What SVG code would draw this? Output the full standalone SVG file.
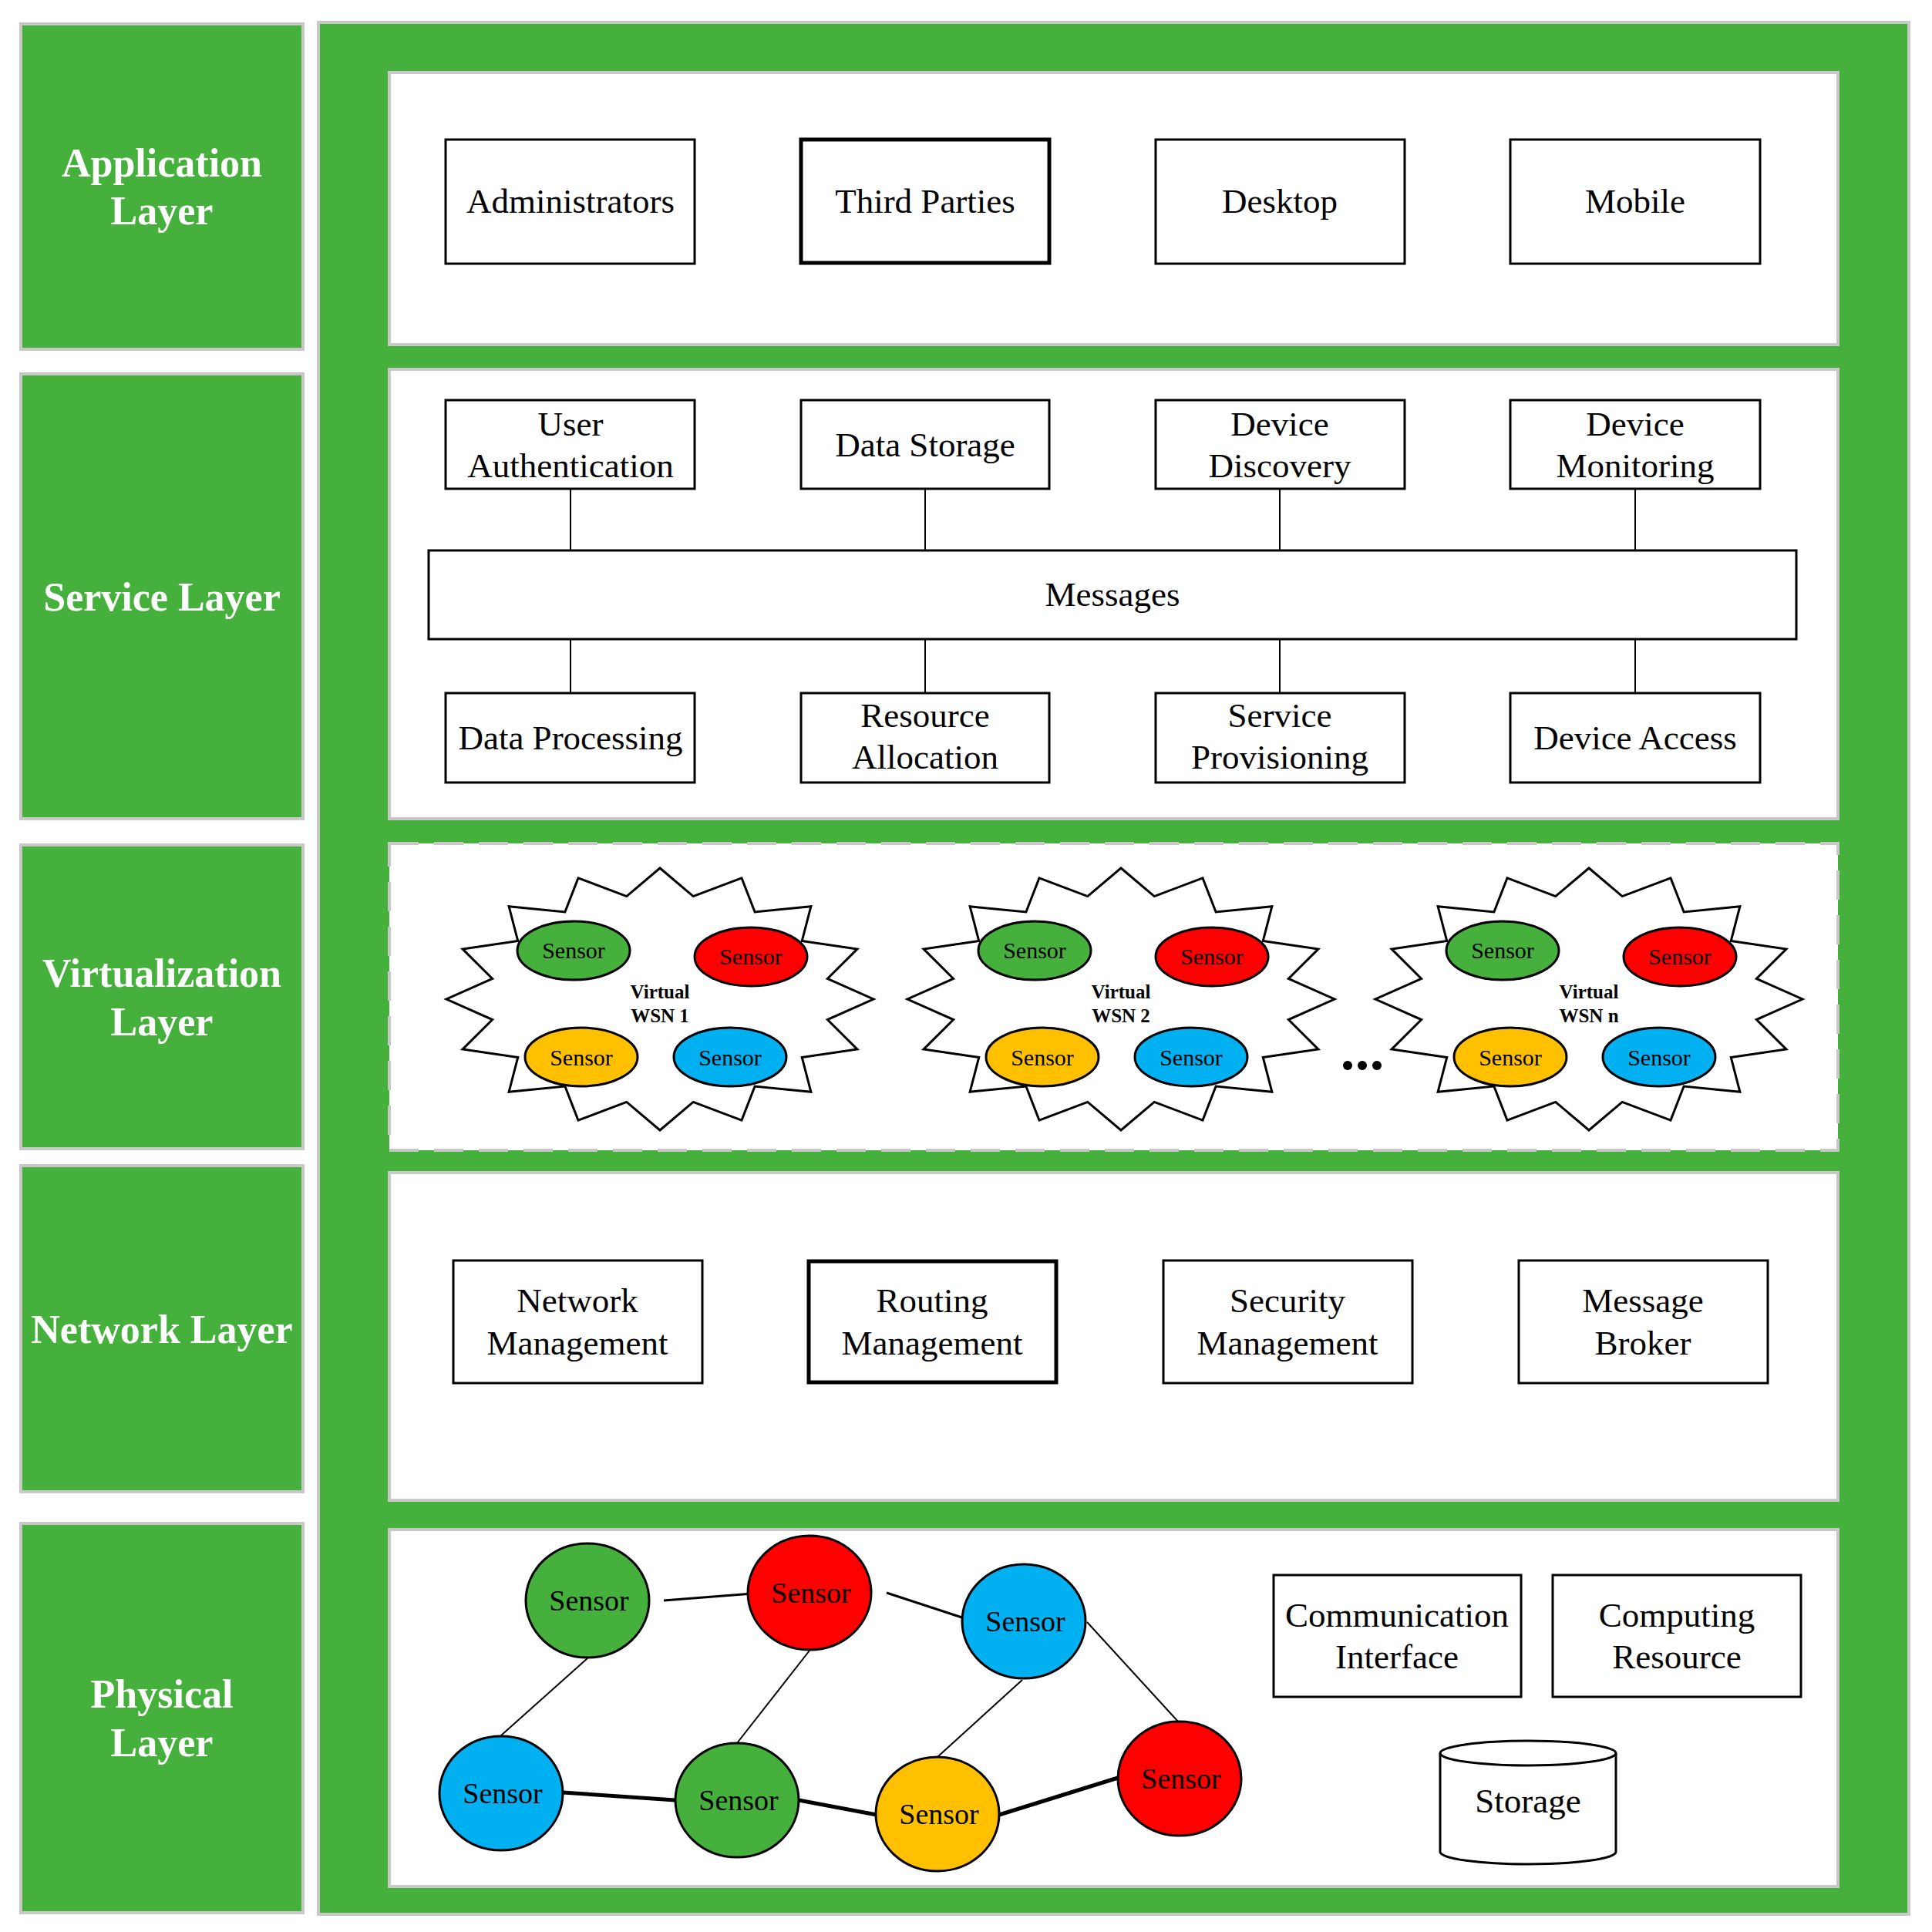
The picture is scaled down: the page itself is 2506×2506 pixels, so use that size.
<svg xmlns="http://www.w3.org/2000/svg" xmlns:xlink="http://www.w3.org/1999/xlink" width="2506" height="2506" viewBox="0 0 2506 2506">
<style>
.lbl{fill:#46b03d;stroke:#c8c8c8;stroke-width:4}
.lt{font-family:"Liberation Serif","Times New Roman",serif;font-weight:bold;font-size:52px;fill:#fff;text-anchor:middle}
.panel{fill:#fff;stroke:#c8c8c8;stroke-width:4}
.dash{fill:#fff;stroke:#c8c8c8;stroke-width:4;stroke-dasharray:38 20}
.box{fill:#fff;stroke:#000;stroke-width:3}
.boxb{fill:#fff;stroke:#000;stroke-width:5}
.t{font-family:"Liberation Serif","Times New Roman",serif;font-size:45px;fill:#000;text-anchor:middle}
.st{font-family:"Liberation Serif","Times New Roman",serif;font-size:30px;fill:#000;text-anchor:middle}
.vt{font-family:"Liberation Serif","Times New Roman",serif;font-size:25px;font-weight:bold;fill:#000;text-anchor:middle}
.pt{font-family:"Liberation Serif","Times New Roman",serif;font-size:38px;fill:#000;text-anchor:middle}
.star{fill:#fff;stroke:#000;stroke-width:3;stroke-linejoin:miter}
.sen{stroke:#000;stroke-width:3}
.g{fill:#46b03d}.r{fill:#ff0000}.b{fill:#00b0f0}.y{fill:#ffc000}
.c1{stroke:#000;stroke-width:2;fill:none}
.c3{stroke:#000;stroke-width:3;fill:none}
.c5{stroke:#000;stroke-width:5;fill:none}
</style>
<defs>
<path id="starShape" class="star" d="M0,-170 L43.23,-133.39 L106,-157.06 L123.11,-113.08 L195.87,-120.21 L184.25,-75.56 L255.91,-65.06 L217.34,-26.53 L277,0 L217.34,26.53 L255.91,65.06 L184.25,75.56 L195.87,120.21 L123.11,113.08 L106,157.06 L43.23,133.39 L0,170 L-43.23,133.39 L-106,157.06 L-123.11,113.08 L-195.87,120.21 L-184.25,75.56 L-255.91,65.06 L-217.34,26.53 L-277,0 L-217.34,-26.53 L-255.91,-65.06 L-184.25,-75.56 L-195.87,-120.21 L-123.11,-113.08 L-106,-157.06 L-43.23,-133.39 Z"/>
</defs>
<rect width="2506" height="2506" fill="#fff"/>

<!-- layer labels -->
<g id="label-application"><rect class="lbl" x="27" y="31" width="366" height="422"/><text class="lt" x="210" y="229">Application</text><text class="lt" x="210" y="291">Layer</text></g>
<g id="label-service"><rect class="lbl" x="27" y="485" width="366" height="577"/><text class="lt" x="210" y="792">Service Layer</text></g>
<g id="label-virtualization"><rect class="lbl" x="27" y="1096" width="366" height="394"/><text class="lt" x="210" y="1280">Virtualization</text><text class="lt" x="210" y="1343">Layer</text></g>
<g id="label-network"><rect class="lbl" x="27" y="1512" width="366" height="423"/><text class="lt" x="210" y="1742">Network Layer</text></g>
<g id="label-physical"><rect class="lbl" x="27" y="1976" width="366" height="505"/><text class="lt" x="210" y="2215">Physical</text><text class="lt" x="210" y="2278">Layer</text></g>

<!-- main area -->
<rect id="main-area" class="lbl" x="413" y="29" width="2063" height="2454"/>
<rect id="panel-application" class="panel" x="505" y="94" width="1879" height="353"/>
<rect id="panel-service" class="panel" x="505" y="479" width="1879" height="583"/>
<rect id="panel-virtualization" class="dash" x="505" y="1094" width="1879" height="398"/>
<rect id="panel-network" class="panel" x="505" y="1521" width="1879" height="425"/>
<rect id="panel-physical" class="panel" x="505" y="1984" width="1879" height="463"/>

<!-- connectors -->
<g id="connectors">
<line class="c1" x1="740" y1="634" x2="740" y2="714"/>
<line class="c1" x1="1200" y1="634" x2="1200" y2="714"/>
<line class="c1" x1="1660" y1="634" x2="1660" y2="714"/>
<line class="c1" x1="2121" y1="634" x2="2121" y2="714"/>
<line class="c1" x1="740" y1="829" x2="740" y2="899"/>
<line class="c1" x1="1200" y1="829" x2="1200" y2="899"/>
<line class="c1" x1="1660" y1="829" x2="1660" y2="899"/>
<line class="c1" x1="2121" y1="829" x2="2121" y2="899"/>
<line class="c3" x1="861" y1="2076" x2="989" y2="2066"/>
<line class="c3" x1="1150" y1="2066" x2="1266" y2="2104"/>
<line class="c1" x1="762" y1="2151" x2="650" y2="2251"/>
<line class="c1" x1="1050" y1="2141" x2="956" y2="2261"/>
<line class="c1" x1="1326" y1="2179" x2="1216" y2="2279"/>
<line class="c1" x1="1410" y1="2104" x2="1528" y2="2233"/>
<line class="c5" x1="730" y1="2325" x2="876" y2="2335"/>
<line class="c5" x1="1036" y1="2335" x2="1137" y2="2354"/>
<line class="c5" x1="1296" y1="2354" x2="1450" y2="2306"/>
</g>

<!-- application layer -->
<g id="n-administrators"><rect class="box" x="578" y="181" width="323" height="161"/><text class="t" x="740" y="276">Administrators</text></g>
<g id="n-third-parties"><rect class="boxb" x="1039" y="181" width="322" height="160"/><text class="t" x="1200" y="276">Third Parties</text></g>
<g id="n-desktop"><rect class="box" x="1499" y="181" width="323" height="161"/><text class="t" x="1660" y="276">Desktop</text></g>
<g id="n-mobile"><rect class="box" x="1959" y="181" width="324" height="161"/><text class="t" x="2121" y="276">Mobile</text></g>

<!-- service layer -->
<g id="n-user-auth"><rect class="box" x="578" y="519" width="323" height="115"/><text class="t" x="740" y="565">User</text><text class="t" x="740" y="619">Authentication</text></g>
<g id="n-data-storage"><rect class="box" x="1039" y="519" width="322" height="115"/><text class="t" x="1200" y="592">Data Storage</text></g>
<g id="n-device-discovery"><rect class="box" x="1499" y="519" width="323" height="115"/><text class="t" x="1660" y="565">Device</text><text class="t" x="1660" y="619">Discovery</text></g>
<g id="n-device-monitoring"><rect class="box" x="1959" y="519" width="324" height="115"/><text class="t" x="2121" y="565">Device</text><text class="t" x="2121" y="619">Monitoring</text></g>
<g id="n-messages"><rect class="box" x="556" y="714" width="1774" height="115"/><text class="t" x="1443" y="786">Messages</text></g>
<g id="n-data-processing"><rect class="box" x="578" y="899" width="323" height="116"/><text class="t" x="740" y="972">Data Processing</text></g>
<g id="n-resource-allocation"><rect class="box" x="1039" y="899" width="322" height="116"/><text class="t" x="1200" y="943">Resource</text><text class="t" x="1200" y="997">Allocation</text></g>
<g id="n-service-provisioning"><rect class="box" x="1499" y="899" width="323" height="116"/><text class="t" x="1660" y="943">Service</text><text class="t" x="1660" y="997">Provisioning</text></g>
<g id="n-device-access"><rect class="box" x="1959" y="899" width="324" height="116"/><text class="t" x="2121" y="972">Device Access</text></g>

<!-- virtualization layer -->
<g id="n-vwsn1" transform="translate(856,1296)">
<use xlink:href="#starShape" href="#starShape"/>
<ellipse class="sen g" cx="-112" cy="-63" rx="73" ry="38"/><text class="st" x="-112" y="-53">Sensor</text>
<ellipse class="sen r" cx="118" cy="-55" rx="73" ry="38"/><text class="st" x="118" y="-45">Sensor</text>
<ellipse class="sen y" cx="-102" cy="75" rx="73" ry="38"/><text class="st" x="-102" y="86">Sensor</text>
<ellipse class="sen b" cx="91" cy="75" rx="73" ry="38"/><text class="st" x="91" y="86">Sensor</text>
<text class="vt" x="0" y="-1">Virtual</text><text class="vt" x="0" y="30">WSN 1</text>
</g>
<g id="n-vwsn2" transform="translate(1454,1296)">
<use xlink:href="#starShape" href="#starShape"/>
<ellipse class="sen g" cx="-112" cy="-63" rx="73" ry="38"/><text class="st" x="-112" y="-53">Sensor</text>
<ellipse class="sen r" cx="118" cy="-55" rx="73" ry="38"/><text class="st" x="118" y="-45">Sensor</text>
<ellipse class="sen y" cx="-102" cy="75" rx="73" ry="38"/><text class="st" x="-102" y="86">Sensor</text>
<ellipse class="sen b" cx="91" cy="75" rx="73" ry="38"/><text class="st" x="91" y="86">Sensor</text>
<text class="vt" x="0" y="-1">Virtual</text><text class="vt" x="0" y="30">WSN 2</text>
</g>
<g id="n-vwsnn" transform="translate(2061,1296)">
<use xlink:href="#starShape" href="#starShape"/>
<ellipse class="sen g" cx="-112" cy="-63" rx="73" ry="38"/><text class="st" x="-112" y="-53">Sensor</text>
<ellipse class="sen r" cx="118" cy="-55" rx="73" ry="38"/><text class="st" x="118" y="-45">Sensor</text>
<ellipse class="sen y" cx="-102" cy="75" rx="73" ry="38"/><text class="st" x="-102" y="86">Sensor</text>
<ellipse class="sen b" cx="91" cy="75" rx="73" ry="38"/><text class="st" x="91" y="86">Sensor</text>
<text class="vt" x="0" y="-1">Virtual</text><text class="vt" x="0" y="30">WSN n</text>
</g>
<g id="ellipsis"><circle cx="1748" cy="1382" r="6"/><circle cx="1767" cy="1382" r="6"/><circle cx="1786" cy="1382" r="6"/></g>

<!-- network layer -->
<g id="n-network-mgmt"><rect class="box" x="588" y="1635" width="323" height="159"/><text class="t" x="749" y="1702">Network</text><text class="t" x="749" y="1757">Management</text></g>
<g id="n-routing-mgmt"><rect class="boxb" x="1049" y="1636" width="321" height="157"/><text class="t" x="1209" y="1702">Routing</text><text class="t" x="1209" y="1757">Management</text></g>
<g id="n-security-mgmt"><rect class="box" x="1509" y="1635" width="323" height="159"/><text class="t" x="1670" y="1702">Security</text><text class="t" x="1670" y="1757">Management</text></g>
<g id="n-message-broker"><rect class="box" x="1970" y="1635" width="323" height="159"/><text class="t" x="2131" y="1702">Message</text><text class="t" x="2131" y="1757">Broker</text></g>

<!-- physical layer -->
<g id="n-ps1"><ellipse class="sen g" cx="762" cy="2076" rx="80" ry="74"/><text class="pt" x="764" y="2089">Sensor</text></g>
<g id="n-ps2"><ellipse class="sen r" cx="1050" cy="2066" rx="80" ry="74"/><text class="pt" x="1052" y="2079">Sensor</text></g>
<g id="n-ps3"><ellipse class="sen b" cx="1328" cy="2103" rx="80" ry="74"/><text class="pt" x="1330" y="2116">Sensor</text></g>
<g id="n-ps4"><ellipse class="sen b" cx="650" cy="2326" rx="80" ry="74"/><text class="pt" x="652" y="2339">Sensor</text></g>
<g id="n-ps5"><ellipse class="sen g" cx="956" cy="2335" rx="80" ry="74"/><text class="pt" x="958" y="2348">Sensor</text></g>
<g id="n-ps6"><ellipse class="sen y" cx="1216" cy="2353" rx="80" ry="74"/><text class="pt" x="1218" y="2366">Sensor</text></g>
<g id="n-ps7"><ellipse class="sen r" cx="1530" cy="2307" rx="80" ry="74"/><text class="pt" x="1532" y="2320">Sensor</text></g>
<g id="n-comm-interface"><rect class="box" x="1652" y="2043" width="321" height="158"/><text class="t" x="1812" y="2110">Communication</text><text class="t" x="1812" y="2164">Interface</text></g>
<g id="n-computing-resource"><rect class="box" x="2014" y="2043" width="322" height="158"/><text class="t" x="2175" y="2110">Computing</text><text class="t" x="2175" y="2164">Resource</text></g>
<g id="n-storage"><path class="box" d="M1868,2274 A114,16 0 0,1 2096,2274 L2096,2402 A114,16 0 0,1 1868,2402 Z"/><path class="c3" d="M1868,2274 A114,16 0 0,0 2096,2274"/><text class="t" x="1982" y="2351">Storage</text></g>
</svg>
